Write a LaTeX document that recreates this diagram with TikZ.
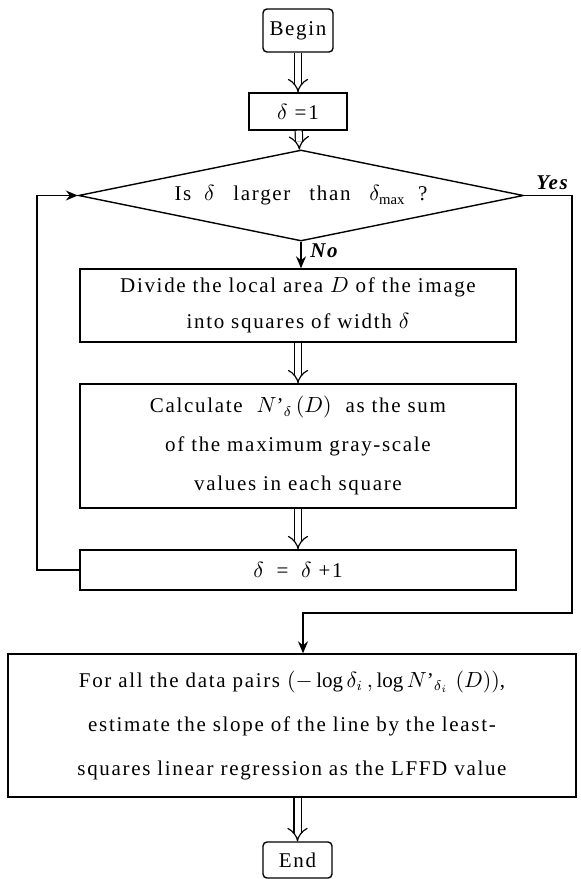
\documentclass[tikz,border=0pt]{standalone}
\usepackage{amsmath}
\usepackage{fontspec}
\setmainfont{Liberation Serif}[LetterSpace=8]
\usepackage{tikz}
\usetikzlibrary{arrows.meta, positioning, shapes.geometric}

\begin{document}
\begin{tikzpicture}[
    stepbox/.style={draw, line width=0.7pt, inner sep=0pt, align=center,
                    font=\fontsize{10.5}{18}\selectfont},
    term/.style={stepbox, rounded corners=2pt},
    test/.style={draw, line width=0.7pt, diamond, aspect=4.9, inner sep=0pt,
                 font=\fontsize{10.5}{18}\selectfont},
    dbl/.style={double, double distance=3pt, line width=0.6pt, -{Implies}},
    arr/.style={-{Stealth[length=6pt, width=5pt, inset=2pt]}, line width=0.7pt},
    ylab/.style={font=\fontsize{10.5}{12}\selectfont\bfseries\itshape},
    x=0.5pt, y=-0.5pt
  ]
  \useasboundingbox (0,0) rectangle (580,879);

  % start and first value
  \node[term, minimum width=35pt, minimum height=21.5pt] (begin) at (298,30.5) {Begin};
  \node[stepbox, minimum width=49pt, minimum height=18.5pt] (dset) at (298,111.5) {$\delta$ =1};
  \draw[dbl] (begin) -- (dset);

  % loop test
  \node[test, minimum width=222.5pt, minimum height=45.5pt] (check) at (301,195.5)
    {Is\hspace{0.6em}$\delta$\hspace{0.9em}larger\hspace{0.9em}than\hspace{0.9em}$\delta_{\max}$\hspace{0.6em}?};
  \draw[dbl] (dset) -- (check);

  % loop body
  \node[stepbox, minimum width=218pt, minimum height=36.5pt] (divide) at (298,305.5)
    {Divide the local area $D$ of the image\\into squares of width $\delta$};
  \node[stepbox, minimum width=218pt, minimum height=62pt,
        font=\fontsize{10.5}{19.5}\selectfont] (calc) at (298,446)
    {Calculate \ $N\text{'}_{\delta}\,(D)$ \ as the sum\\of the maximum gray-scale\\values in each square};
  \node[stepbox, minimum width=218pt, minimum height=20pt] (incr) at (298,570)
    {$\delta$ \;=\; $\delta$ +1};
  \draw[arr] (check.south) -- (check.south |- divide.north)
    node[ylab, pos=0.35, right=1pt] {No};
  \draw[dbl] (divide) -- (calc);
  \draw[dbl] (calc) -- (incr);
  \draw[arr] (incr.west) -- (37,570) |- (check.west);

  % after the loop
  \node[stepbox, minimum width=284pt, minimum height=71.5pt,
        font=\fontsize{10.5}{22}\selectfont] (fit) at (292,725.5)
    {For all the data pairs $(-\log\delta_i\,,\log N\text{'}_{\delta_i}\ (D))$,\\
     estimate the slope of the line by the least-\\
     squares linear regression as the LFFD value};
  \coordinate (rt) at (572,613);
  \draw[arr] (check.east) -| (rt) -| ([xshift=5.5pt]fit.north);
  \node[ylab] at (552,183) {Yes};

  % end
  \node[term, minimum width=34.5pt, minimum height=18pt] (stop) at (297.5,860) {End};
  \draw[dbl] (fit.south -| stop.north) -- (stop);
\end{tikzpicture}
\end{document}
